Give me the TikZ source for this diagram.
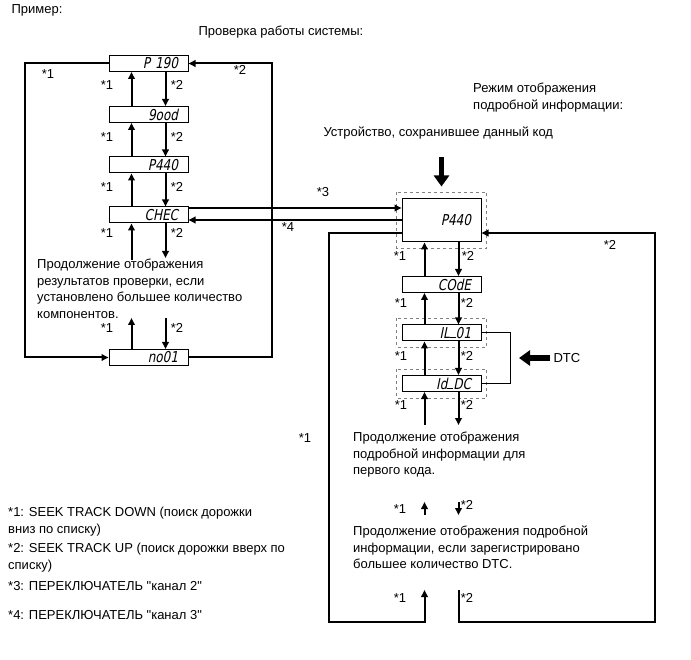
\documentclass[tikz,border=0pt]{standalone}
\usepackage{fontspec}
\setmainfont{Liberation Sans}
\newfontfamily\lcdfont[FakeSlant=0.2,FakeStretch=0.8]{DejaVu Sans}
\usetikzlibrary{arrows.meta}

\newcommand\txtfont{\fontsize{13}{16.5}\selectfont}
\newcommand\lcdbar{\rule{6pt}{1.4pt}}

\tikzset{
	lcd/.style={rectangle, draw, line width=1pt, minimum width=79pt, minimum height=16pt,
		inner xsep=10pt, inner ysep=0pt, text width=59pt, align=right,
		font=\lcdfont\fontsize{15}{15}\selectfont},
	arr/.style={-{Triangle[length=7pt,width=6.5pt]}, line width=2pt},
	bigarr/.style={-{Triangle[length=11pt,width=15pt]}, line width=5.5pt},
	dashbox/.style={draw=gray, dashed, line width=0.7pt},
	note/.style={anchor=north west, inner sep=0pt, align=left},
}

\begin{document}
\begin{tikzpicture}[x=1pt,y=-1pt, every node/.append style={font=\txtfont}]
\useasboundingbox (0,0) rectangle (691,660);

% display boxes
\foreach \n/\x/\y/\t in {
	p190/148.5/63.5/P 190,good/148.5/114.5/9ood%
	,p440/148.5/165/P440,chec/148.5/215/CHEC%
	,no01/148.5/357.5/no01%
	,code/441.5/284.5/COdE,ilo/441.5/333/IL\lcdbar01,iddc/441.5/383.5/Id\lcdbar DC%
}{
	\node[lcd] (\n) at (\x,\y) {\t};
}
\node[lcd, minimum height=43pt] (big) at (441.5,220.5) {P440};

\foreach \n in {big,ilo,iddc}{
	\draw[dashbox] ([shift={(-5pt,6pt)}]\n.north west) rectangle ([shift={(5pt,-6pt)}]\n.south east);
}

% free ends
\foreach \n/\x/\y in {
	a1/131.5/260,a2/165.5/258,b1/131.5/318,b2/165.5/318%
	,c1/424.5/425,c2/458.5/425%
	,d1/424.5/515,d2/424.5/502,e1/458.5/502,e2/458.5/515%
	,f1/424.5/590,f2/458.5/590%
}{
	\coordinate (\n) at (\x,\y);
}

% up / down steps
\foreach \u \v in {good/p190,p440/good,chec/p440,code/big,ilo/code,iddc/ilo}{
	\draw[arr] ([xshift=-17pt]\u.north) -- ([xshift=-17pt]\v.south);
	\draw[arr] ([xshift=17pt]\v.south) -- ([xshift=17pt]\u.north);
}
\draw[arr] (a1) -- ([xshift=-17pt]chec.south);
\draw[arr] ([xshift=17pt]chec.south) -- (a2);
\draw[arr] ([xshift=-17pt]no01.north) -- (b1);
\draw[arr] (b2) -- ([xshift=17pt]no01.north);
\draw[arr] (c1) -- ([xshift=-17pt]iddc.south);
\draw[arr] ([xshift=17pt]iddc.south) -- (c2);
\draw[arr] (d1) -- (d2);
\draw[arr] (e1) -- (e2);

% loops
\draw[arr] (p190.west) -- ++(-84,0) |- (no01.west);
\draw[arr] (no01.east) -- ++(83,0) |- (p190.east);
\draw[arr] ([yshift=-12.5pt]big.west) -| (329,622) -| (f1);
\draw[arr] (f2) |- (655,622) |- ([yshift=-12.5pt]big.east);

% channel switches
\draw[arr] ([yshift=7pt]chec.east) -- ([yshift=7pt]chec.east -| big.west);
\draw[arr] ([yshift=-5pt]chec.east -| big.west) -- ([yshift=-5pt]chec.east);

% DTC bracket
\draw[line width=1pt] (ilo.east) -- ++(29,0) |- (iddc.east);
\node[anchor=west] (dtc) at (550,358) {DTC};
\draw[bigarr] (dtc.west) -- ++(-31,0);
\draw[bigarr] ([yshift=41pt]big.north) -- ([yshift=12pt]big.north);

% key labels
\foreach \x/\y/\t [count=\i] in {
	48/74/1,240/70/2,107/85/1,177/85/2,107/137/1,177/137/2%
	,107/187/1,177/187/2,107/233/1,177/233/2,107/328/1,177/328/2%
	,323/192/3,288/227/4%
	,400/256/1,468/256/2,401/303/1,467/303/2,401/356/1,467/356/2%
	,401/405/1,467/405/2,610/245/2,305/438/1%
	,400/509/1,467/505/2,400/598/1,467/598/2%
}{
	\node (s\i) at (\x,\y) {*\t};
}

% texts
\node[anchor=base west] (ex) at (8,14) {Пример:};
\node[anchor=base west] (chk) at (195,36) {Проверка работы системы:};
\node[note] (mode) at (473,83) {Режим отображения\\подробной информации:};
\node[anchor=base west] (dev) at (320,137) {Устройство, сохранившее данный код};
\node[note] (conta) at (37,259) {Продолжение отображения\\результатов проверки, если\\установлено большее количество\\компонентов.};
\node[note] (contb) at (353,432) {Продолжение отображения\\подробной информации для\\первого кода.};
\node[note] (contc) at (353,526) {Продолжение отображения подробной\\информации, если зарегистрировано\\большее количество DTC.};
\node[note] (key) at (8,507) {*1: SEEK TRACK DOWN (поиск дорожки\\вниз по списку)\\[3pt]*2: SEEK TRACK UP (поиск дорожки вверх по\\списку)\\[5pt]*3: ПЕРЕКЛЮЧАТЕЛЬ \textquotedbl канал 2\textquotedbl\\[12pt]*4: ПЕРЕКЛЮЧАТЕЛЬ \textquotedbl канал 3\textquotedbl};
\end{tikzpicture}
\end{document}
